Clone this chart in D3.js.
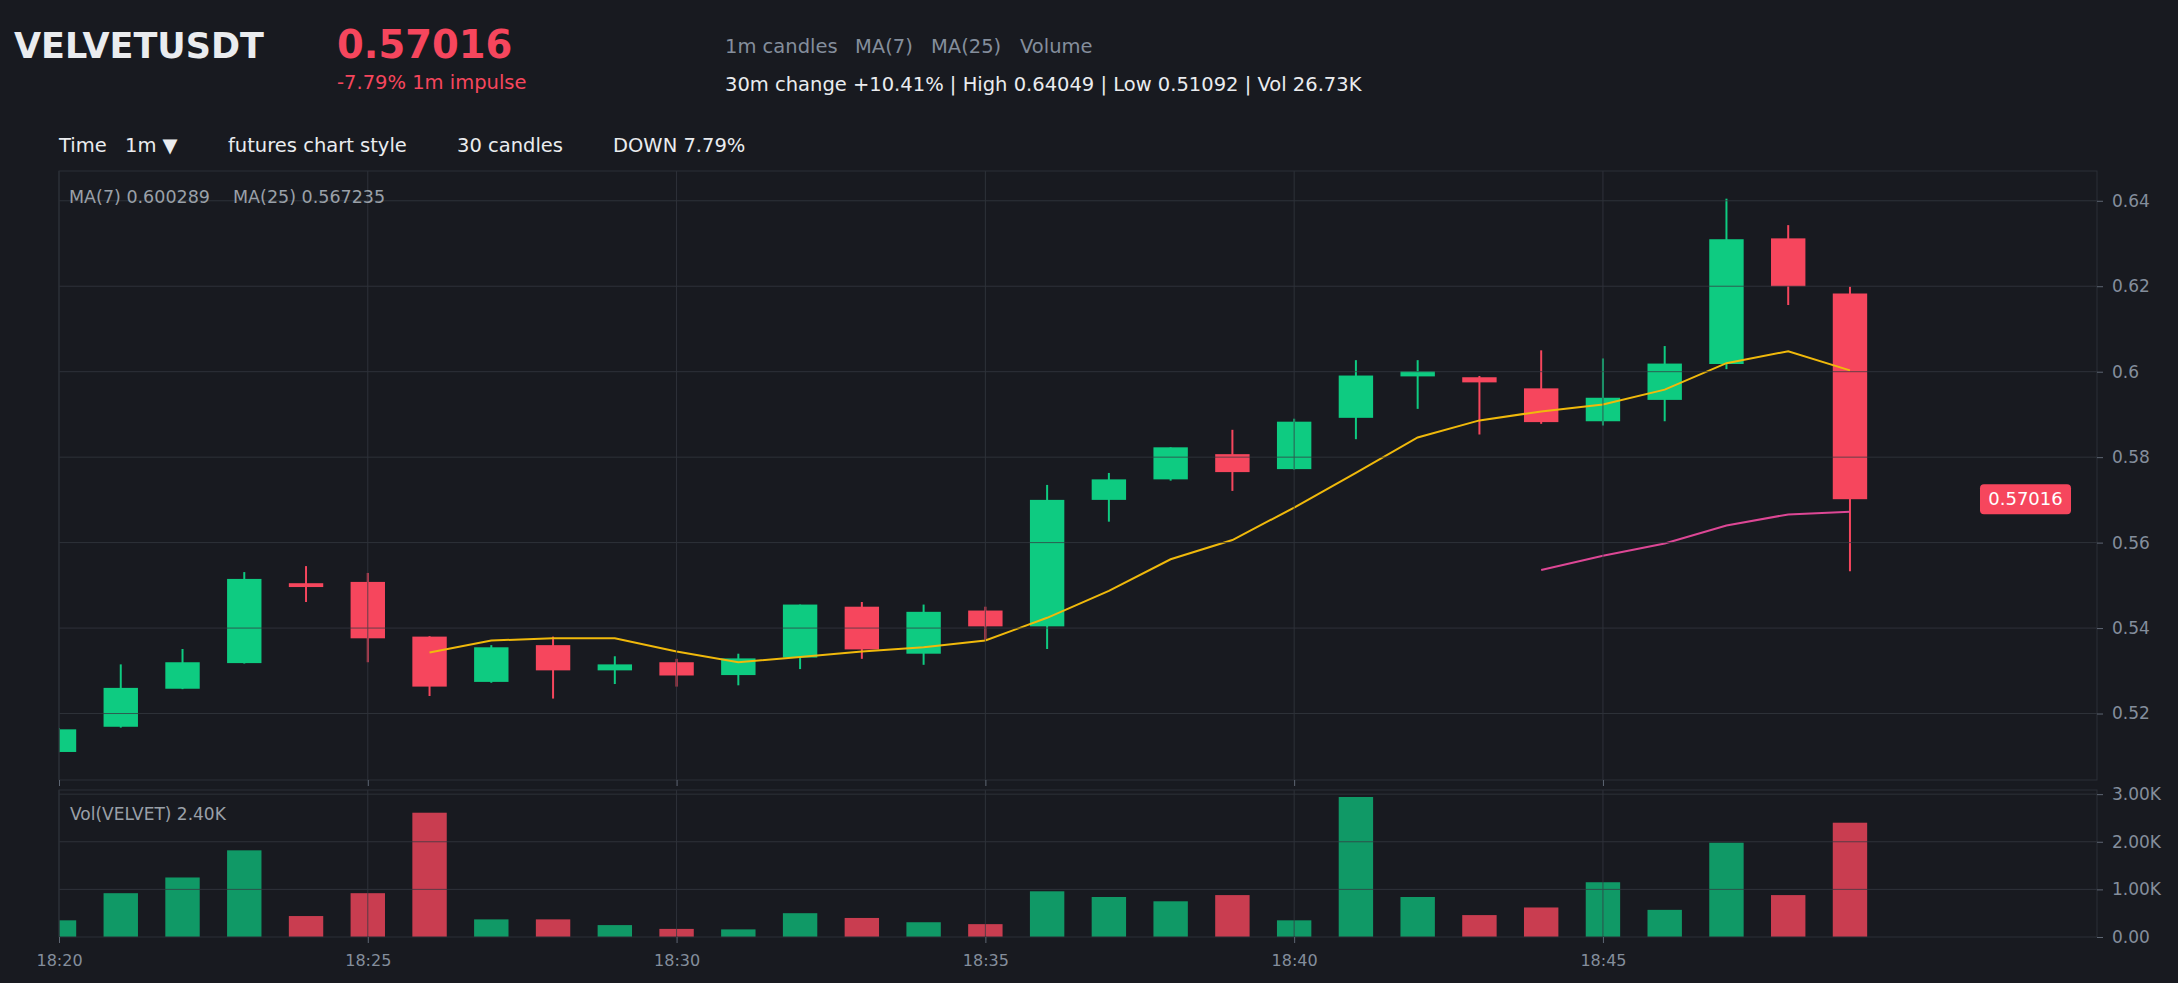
<!DOCTYPE html>
<html>
<head>
<meta charset="utf-8">
<script src="https://cdn.jsdelivr.net/npm/d3@7"></script>
<style>
  body { margin: 0; background: #181a20; }
  svg text { font-family: "DejaVu Sans", sans-serif; }
</style>
</head>
<body>
<div id="chart"></div>
<script>
/**
 * Data
 */
const times = ["18:20", "18:21", "18:22", "18:23", "18:24", "18:25", "18:26", "18:27", "18:28", "18:29",
  "18:30", "18:31", "18:32", "18:33", "18:34", "18:35", "18:36", "18:37", "18:38", "18:39",
  "18:40", "18:41", "18:42", "18:43", "18:44", "18:45", "18:46", "18:47", "18:48", "18:49"];
const opens = [0.5110, 0.5169, 0.5258, 0.5318, 0.5505, 0.5508, 0.5380, 0.5274, 0.5360, 0.5301,
  0.5320, 0.5290, 0.5331, 0.5450, 0.5340, 0.5441, 0.5404, 0.5700, 0.5748, 0.5807,
  0.5772, 0.5892, 0.5989, 0.5987, 0.5961, 0.5884, 0.5934, 0.6018, 0.6312, 0.6183];
const highs = [0.5166, 0.5315, 0.5351, 0.5531, 0.5545, 0.5529, 0.5381, 0.5360, 0.5380, 0.5334,
  0.5328, 0.5340, 0.5455, 0.5461, 0.5455, 0.5450, 0.5735, 0.5763, 0.5823, 0.5864,
  0.5890, 0.6027, 0.6027, 0.5990, 0.6050, 0.6031, 0.6060, 0.64049, 0.6343, 0.6199];
const lows = [0.51092, 0.5167, 0.5257, 0.5317, 0.5461, 0.5320, 0.5241, 0.5272, 0.5235, 0.5269,
  0.5263, 0.5266, 0.5304, 0.5328, 0.5314, 0.5371, 0.5351, 0.5649, 0.5745, 0.5721,
  0.5771, 0.5842, 0.5913, 0.5853, 0.5878, 0.5874, 0.5884, 0.6006, 0.6156, 0.5533];
const closes = [0.5163, 0.5260, 0.5320, 0.5515, 0.5496, 0.5376, 0.5263, 0.5355, 0.5301, 0.5315,
  0.5289, 0.5329, 0.5455, 0.5350, 0.5438, 0.5404, 0.5700, 0.5748, 0.5823, 0.5765,
  0.5883, 0.5991, 0.6001, 0.5975, 0.5882, 0.5939, 0.6019, 0.6310, 0.6200, 0.57016];
const volumes = [350, 920, 1250, 1820, 440, 920, 2610, 370, 370, 250,
  170, 160, 500, 400, 310, 270, 960, 840, 750, 880,
  350, 2940, 840, 460, 620, 1150, 570, 1980, 880, 2400];
const ma7 = [null, null, null, null, null, null, 0.5343, 0.5371, 0.5376, 0.5376,
  0.5345, 0.5320, 0.5332, 0.5345, 0.5355, 0.5371, 0.5424, 0.5487, 0.5561, 0.5606,
  0.5682, 0.5763, 0.5846, 0.5886, 0.5907, 0.5923, 0.5958, 0.6020, 0.6048, 0.6003];
const ma25 = [null, null, null, null, null, null, null, null, null, null,
  null, null, null, null, null, null, null, null, null, null,
  null, null, null, null, 0.5536, 0.5569, 0.5598, 0.5640, 0.5666, 0.5672];

const priceTicks = [0.52, 0.54, 0.56, 0.58, 0.60, 0.62, 0.64];
const volumeTicks = [0, 1000, 2000, 3000];
const viewStart = "18:20";
const viewEnd = "18:53";

/**
 * Basic Settings
 */
const canvasWidth = 2178;
const canvasHeight = 983;

const plotLeft = 59;
const plotRight = 2097;
const mainTop = 171;
const mainBottom = 780;
const volTop = 790;
const volBottom = 937;

const upColor = "#0ecb81";
const downColor = "#f6465d";
const gridColor = "#363a42";
const textGray = "#848e9c";
const textLight = "#eaecef";

const svg = d3.select("#chart")
  .append("svg")
  .attr("width", canvasWidth)
  .attr("height", canvasHeight)
  .style("background", "#181a20");

const parseTime = d3.timeParse("%H:%M");
const candles = times.map((t, i) => ({
  t: parseTime(t), o: opens[i], h: highs[i], l: lows[i], c: closes[i], v: volumes[i]
}));

/**
 * Scale
 */
const xScale = d3.scaleTime()
  .domain([parseTime(viewStart), parseTime(viewEnd)])
  .range([plotLeft, plotRight]);

const lowMin = d3.min(lows);
const highMax = d3.max(highs);
const pad = (highMax - lowMin) * 0.05;
const yScale = d3.scaleLinear()
  .domain([lowMin - pad, highMax + pad])
  .range([mainBottom, mainTop]);

const vScale = d3.scaleLinear()
  .domain([0, d3.max(volumes) * 1.05])
  .range([volBottom, volTop]);

const step = xScale(candles[1].t) - xScale(candles[0].t);
const bodyWidth = step * 0.557;
const xTicks = d3.timeMinute.every(5).range(parseTime(viewStart), parseTime("18:50"));

/**
 * Clip paths
 */
const defs = svg.append("defs");
defs.append("clipPath").attr("id", "clip-main")
  .append("rect")
  .attr("x", plotLeft).attr("y", mainTop)
  .attr("width", plotRight - plotLeft).attr("height", mainBottom - mainTop);
defs.append("clipPath").attr("id", "clip-vol")
  .append("rect")
  .attr("x", plotLeft).attr("y", volTop)
  .attr("width", plotRight - plotLeft).attr("height", volBottom - volTop);

/**
 * Header
 */
svg.append("text")
  .attr("x", 14).attr("y", 58)
  .attr("font-size", 35).attr("font-weight", "bold")
  .attr("fill", textLight)
  .text("VELVETUSDT");

svg.append("text")
  .attr("x", 337).attr("y", 58)
  .attr("font-size", 38.5).attr("font-weight", "bold")
  .attr("fill", downColor)
  .text("0.57016");

svg.append("text")
  .attr("x", 337).attr("y", 89)
  .attr("font-size", 19.5)
  .attr("fill", downColor)
  .text("-7.79% 1m impulse");

const headerTags = [["1m candles", 725], ["MA(7)", 855], ["MA(25)", 931], ["Volume", 1020]];
svg.selectAll(".header-tag")
  .data(headerTags)
  .enter()
  .append("text")
  .attr("class", "header-tag")
  .attr("x", d => d[1]).attr("y", 53)
  .attr("font-size", 19.5)
  .attr("fill", textGray)
  .text(d => d[0]);

svg.append("text")
  .attr("x", 725).attr("y", 91)
  .attr("font-size", 19.5)
  .attr("fill", textLight)
  .text("30m change +10.41% | High 0.64049 | Low 0.51092 | Vol 26.73K");

const toolbar = [["Time", 59], ["1m \u25BC", 125], ["futures chart style", 228], ["30 candles", 457], ["DOWN 7.79%", 613]];
svg.selectAll(".toolbar")
  .data(toolbar)
  .enter()
  .append("text")
  .attr("class", "toolbar")
  .attr("x", d => d[1]).attr("y", 152)
  .attr("font-size", 19.5)
  .attr("fill", textLight)
  .text(d => d[0]);

/**
 * Main panel: candles
 */
const main = svg.append("g").attr("clip-path", "url(#clip-main)");

main.selectAll(".wick")
  .data(candles)
  .enter()
  .append("line")
  .attr("class", "wick")
  .attr("x1", d => xScale(d.t)).attr("x2", d => xScale(d.t))
  .attr("y1", d => yScale(d.h)).attr("y2", d => yScale(d.l))
  .attr("stroke", d => d.c >= d.o ? upColor : downColor)
  .attr("stroke-width", 2);

main.selectAll(".body")
  .data(candles)
  .enter()
  .append("rect")
  .attr("class", "body")
  .attr("x", d => xScale(d.t) - bodyWidth / 2)
  .attr("y", d => yScale(Math.max(d.o, d.c)))
  .attr("width", bodyWidth)
  .attr("height", d => Math.max(2, Math.abs(yScale(d.o) - yScale(d.c))))
  .attr("fill", d => d.c >= d.o ? upColor : downColor);

const maLine = d3.line()
  .defined(d => d[1] != null)
  .x(d => xScale(d[0]))
  .y(d => yScale(d[1]));

main.append("path")
  .datum(candles.map((d, i) => [d.t, ma7[i]]))
  .attr("d", maLine)
  .attr("fill", "none")
  .attr("stroke", "#f0b90b")
  .attr("stroke-width", 2);

main.append("path")
  .datum(candles.map((d, i) => [d.t, ma25[i]]))
  .attr("d", maLine)
  .attr("fill", "none")
  .attr("stroke", "#dd4795")
  .attr("stroke-width", 2);

/**
 * Main panel: grid (drawn over marks, translucent)
 */
const mainGrid = svg.append("g").attr("opacity", 0.75);
mainGrid.selectAll(".hgrid")
  .data(priceTicks)
  .enter()
  .append("line")
  .attr("x1", plotLeft).attr("x2", plotRight)
  .attr("y1", d => yScale(d)).attr("y2", d => yScale(d))
  .attr("stroke", gridColor);
mainGrid.selectAll(".vgrid")
  .data(xTicks)
  .enter()
  .append("line")
  .attr("x1", d => xScale(d)).attr("x2", d => xScale(d))
  .attr("y1", mainTop).attr("y2", mainBottom)
  .attr("stroke", gridColor);

svg.append("rect")
  .attr("x", plotLeft).attr("y", mainTop)
  .attr("width", plotRight - plotLeft).attr("height", mainBottom - mainTop)
  .attr("fill", "none")
  .attr("stroke", "#2b2f36");

/**
 * Volume panel
 */
const vol = svg.append("g").attr("clip-path", "url(#clip-vol)");
vol.selectAll(".vol-bar")
  .data(candles)
  .enter()
  .append("rect")
  .attr("class", "vol-bar")
  .attr("x", d => xScale(d.t) - bodyWidth / 2)
  .attr("y", d => vScale(d.v))
  .attr("width", bodyWidth)
  .attr("height", d => volBottom - vScale(d.v))
  .attr("fill", d => d.c >= d.o ? upColor : downColor)
  .attr("fill-opacity", d => d.c >= d.o ? 0.72 : 0.8);

const volGrid = svg.append("g").attr("opacity", 0.75);
volGrid.selectAll(".hgrid")
  .data(volumeTicks.slice(1))
  .enter()
  .append("line")
  .attr("x1", plotLeft).attr("x2", plotRight)
  .attr("y1", d => vScale(d)).attr("y2", d => vScale(d))
  .attr("stroke", gridColor);
volGrid.selectAll(".vgrid")
  .data(xTicks)
  .enter()
  .append("line")
  .attr("x1", d => xScale(d)).attr("x2", d => xScale(d))
  .attr("y1", volTop).attr("y2", volBottom)
  .attr("stroke", gridColor);

svg.append("rect")
  .attr("x", plotLeft).attr("y", volTop)
  .attr("width", plotRight - plotLeft).attr("height", volBottom - volTop)
  .attr("fill", "none")
  .attr("stroke", "#2b2f36");

/**
 * Axis
 */
function styleAxis(g, size) {
  g.select(".domain").remove();
  g.selectAll(".tick line").attr("stroke", "#5e6673");
  g.selectAll(".tick text")
    .attr("fill", textGray)
    .attr("font-size", size)
    .attr("font-family", "DejaVu Sans");
}

svg.append("g")
  .attr("class", "y-axis")
  .attr("transform", `translate(${plotRight}, 0)`)
  .call(d3.axisRight(yScale)
    .tickValues(priceTicks)
    .tickSize(6)
    .tickPadding(9)
    .tickFormat(d => String(+d.toFixed(2))))
  .call(g => styleAxis(g, 17));

svg.append("g")
  .attr("class", "v-axis")
  .attr("transform", `translate(${plotRight}, 0)`)
  .call(d3.axisRight(vScale)
    .tickValues(volumeTicks)
    .tickSize(6)
    .tickPadding(9)
    .tickFormat(d => d === 0 ? "0.00" : (d / 1000).toFixed(2) + "K"))
  .call(g => styleAxis(g, 17));

svg.append("g")
  .attr("class", "x-axis-main")
  .attr("transform", `translate(0, ${mainBottom})`)
  .call(d3.axisBottom(xScale).tickValues(xTicks).tickSize(6).tickFormat(""))
  .call(g => styleAxis(g, 16));

svg.append("g")
  .attr("class", "x-axis")
  .attr("transform", `translate(0, ${volBottom})`)
  .call(d3.axisBottom(xScale)
    .tickValues(xTicks)
    .tickSize(6)
    .tickPadding(12)
    .tickFormat(d3.timeFormat("%H:%M")))
  .call(g => styleAxis(g, 16));

/**
 * Legends and price tag
 */
svg.append("text")
  .attr("x", 69).attr("y", 203)
  .attr("font-size", 17.5).attr("fill", "#9aa0a8")
  .text("MA(7) " + "0.600289");
svg.append("text")
  .attr("x", 233).attr("y", 203)
  .attr("font-size", 17.5).attr("fill", "#9aa0a8")
  .text("MA(25) " + "0.567235");
svg.append("text")
  .attr("x", 70).attr("y", 820)
  .attr("font-size", 17).attr("fill", "#9aa0a8")
  .text("Vol(VELVET) " + (volumes[volumes.length - 1] / 1000).toFixed(2) + "K");

const lastClose = closes[closes.length - 1];
svg.append("rect")
  .attr("x", 1980).attr("y", yScale(lastClose) - 15)
  .attr("width", 91).attr("height", 30)
  .attr("rx", 4)
  .attr("fill", downColor);
svg.append("text")
  .attr("x", 2025.5).attr("y", yScale(lastClose))
  .attr("dy", "0.35em")
  .attr("text-anchor", "middle")
  .attr("font-size", 18)
  .attr("fill", "#ffffff")
  .text(lastClose.toFixed(5));
</script>
</body>
</html>
